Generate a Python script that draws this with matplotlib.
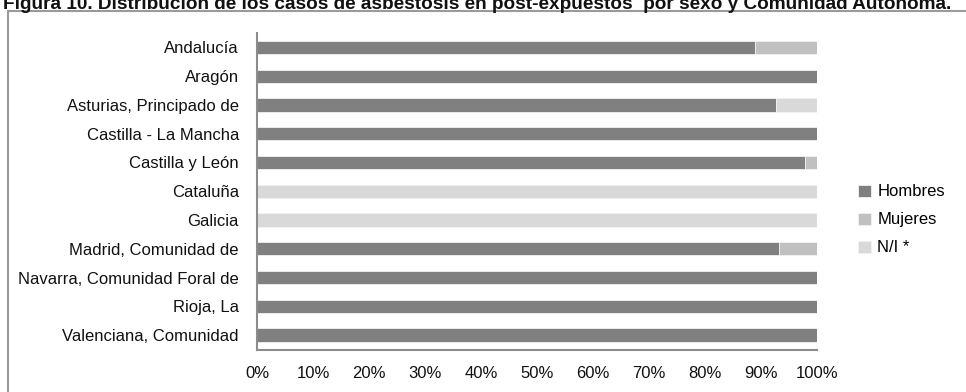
import matplotlib.pyplot as plt
from matplotlib.lines import Line2D
from matplotlib.ticker import FuncFormatter

plt.rcParams['font.family'] = ['Liberation Sans Narrow', 'Liberation Sans', 'DejaVu Sans']

# Casos por comunidad (porcentaje sobre el total de cada una)
comunidades = [
    'Andalucía', 'Aragón', 'Asturias, Principado de', 'Castilla - La Mancha',
    'Castilla y León', 'Cataluña', 'Galicia', 'Madrid, Comunidad de',
    'Navarra, Comunidad Foral de', 'Rioja, La', 'Valenciana, Comunidad',
]
hombres = [88.9, 100, 92.6, 100, 97.8, 0, 0, 93.3, 100, 100, 100]
mujeres = [11.1, 0, 0, 0, 2.2, 0, 0, 6.7, 0, 0, 0]
no_info = [0, 0, 7.4, 0, 0, 100, 100, 0, 0, 0, 0]

series = ['Hombres', 'Mujeres', 'N/I *']
colores = ['#808080', '#c0c0c0', '#d9d9d9']

fig = plt.figure(figsize=(9.66, 3.92), dpi=100)
ax = fig.add_axes([257 / 966, 1 - 349.5 / 392, 560 / 966, 316.5 / 392])

y = list(range(len(comunidades)))
left = [0] * len(comunidades)
for nombre, valores, color in zip(series, [hombres, mujeres, no_info], colores):
    ax.barh(y, valores, left=left, height=0.46, color=color, label=nombre,
            edgecolor='#f2f2f2', linewidth=0.6)
    left = [a + b for a, b in zip(left, valores)]

ax.set_xlim(0, 100)
ax.set_ylim(len(comunidades) - 0.5, -0.5)
ax.set_yticks(y)
ax.set_yticklabels(comunidades, fontsize=12, color='#111111')
ax.set_xticks(range(0, 101, 10))
ax.xaxis.set_major_formatter(FuncFormatter(lambda v, p: f'{v:.0f}%'))
ax.tick_params(axis='x', length=0, pad=12, labelsize=12, labelcolor='#111111')
ax.tick_params(axis='y', length=0, pad=13)

for lado in ['top', 'right']:
    ax.spines[lado].set_visible(False)
for lado in ['left', 'bottom']:
    ax.spines[lado].set_color('#8c8c8c')
    ax.spines[lado].set_linewidth(1.5)

ax.legend(loc='center left', bbox_to_anchor=(843 / 966, 1 - 220 / 392), bbox_transform=fig.transFigure,
          frameon=False, fontsize=12, handlelength=0.75, handleheight=0.75,
          handletextpad=0.4, labelspacing=0.78)

# Marco exterior (solo borde superior e izquierdo)
fig.add_artist(Line2D([8 / 966, 8 / 966], [0, 1 - 11 / 392], transform=fig.transFigure,
                      color='#9a9a9a', linewidth=1.5))
fig.add_artist(Line2D([8 / 966, 1], [1 - 11 / 392, 1 - 11 / 392], transform=fig.transFigure,
                      color='#9a9a9a', linewidth=1.5))

fig.text(3 / 966, 1 - 9 / 392,
         'Figura 10. Distribución de los casos de asbestosis en post-expuestos  por sexo y Comunidad Autónoma.',
         fontsize=13.7, fontweight='bold', ha='left', va='baseline', color='#111111')

fig.savefig('out.png', dpi=100)
